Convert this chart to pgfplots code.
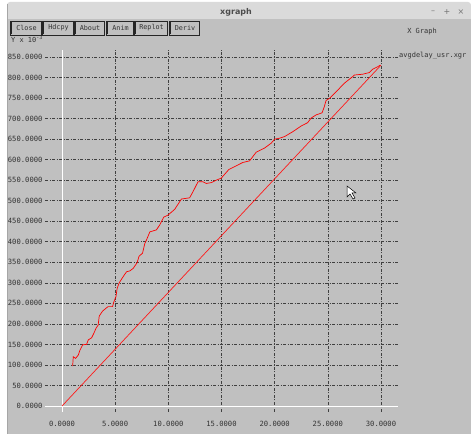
\documentclass[border=0pt]{standalone}
\usepackage{pgfplots}
\pgfplotsset{compat=1.18}
\usepackage{fontspec}
\setmainfont{DejaVu Sans}
\setmonofont{DejaVu Sans Mono}
\definecolor{bg}{HTML}{C0C0C0}
\definecolor{titlebg}{HTML}{DADADA}
\definecolor{gridc}{HTML}{404040}
\pgfplotstableread{
x y
1.00 97
1.06 120
1.28 116
1.53 124
1.69 136
1.94 149
2.31 150
2.47 161
2.78 166
3.03 179
3.19 189
3.40 197
3.50 219
3.81 231
4.13 238
4.34 242
4.75 242
4.88 254
5.07 266
5.19 287
5.38 300
5.75 315
6.07 327
6.38 329
6.69 335
7.06 349
7.25 365
7.57 372
7.79 396
7.94 404
8.26 424
8.88 429
9.19 441
9.57 460
9.97 465
10.60 479
11.23 504
12.00 507
12.32 522
12.79 546
13.26 546
13.57 542
14.04 544
14.51 550
14.98 555
15.69 576
16.23 583
17.00 593
17.64 597
18.26 618
19.04 628
19.67 640
20.00 650
20.45 652
20.92 656
21.70 668
22.50 682
23.10 690
23.42 701
23.90 709
24.46 714
24.67 729
24.83 744
25.14 749
25.77 765
26.55 786
27.33 802
27.49 806
28.27 808
28.90 812
29.20 820
29.67 826
29.93 830
}\delaycurve
\begin{document}
\begin{tikzpicture}[x=1bp,y=1bp]
\path[use as bounding box] (0,0) rectangle (471,434);
% window background
\fill[white] (0,0) rectangle (471,434);
\fill[bg] (7,0) rectangle (471,415);
\fill[titlebg, rounded corners=3bp] (7,432) rectangle (471,415);
\fill[titlebg] (7,420) rectangle (471,415);
\draw[gray!70, line width=0.8bp] (7,0) -- (7,430);
\node[font=\fontsize{8}{9}\selectfont\bfseries, text=black!70] at (236,422) {xgraph};
\node[font=\fontsize{8}{9}\selectfont, text=black!55] at (433,422) {\textendash};
\node[font=\fontsize{8}{9}\selectfont, text=black!55] at (447,422) {+};
\node[font=\fontsize{8}{9}\selectfont, text=black!55] at (461,422) {\texttimes};
% Y x 10 label (partly hidden by buttons)
\node[font=\fontsize{7}{8}\ttfamily, text=black!80, anchor=west, inner sep=0pt] at (11,395) {Y x 10\textsuperscript{-3}};
\begin{axis}[
  at={(45bp,22bp)}, anchor=south west,
  scale only axis, width=353bp, height=362bp,
  xmin=-1.6, xmax=31.6, ymin=-14.6, ymax=867,
  axis line style={draw=none},
  tick style={draw=none},
  xtick={5,10,...,30}, ytick={50,100,...,850},
  extra x ticks={0}, extra y ticks={0},
  extra tick style={major grid style={white, solid, line width=1bp}},
  grid=major,
  major grid style={gridc, line width=0.6bp, dash pattern=on 3bp off 1.5bp on 1bp off 1.5bp},
  /pgf/number format/assume math mode=true,
  /pgf/number format/.cd, fixed, fixed zerofill, precision=4, use period, 1000 sep={},
  /pgfplots/.cd,
  tick label style={font=\fontsize{7.2}{8}\ttfamily, text=black!80},
  xticklabel style={yshift=-6bp},
  yticklabel style={xshift=1bp},
  clip=false,
]
\addplot[red!90!white, line width=0.7bp] coordinates {(0,0) (30,830)};
\addplot[red, line width=0.7bp] table[x=x, y=y] {\delaycurve};
\end{axis}
% buttons drawn over the Y label
\foreach \a/\b/\t in {10/41/Close,42/73/Hdcpy,74/104/About,106/133/Anim,134/167/Replot,169/199/Deriv}{
  \fill[bg] (\a,399) rectangle (\b,413);
  \draw[black!85, line width=0.5bp] (\a,399) rectangle (\b,413);
  \draw[black!85, line width=0.35bp] (\a+1.5,399.5) -- (\a+1.5,412.5);
  \node[font=\fontsize{6.8}{8}\ttfamily, text=black!80, inner sep=0pt] at ({(\a+\b)/2+1},406) {\t};
}
\node[font=\fontsize{7}{8}\ttfamily, text=black!80] at (422,402) {X Graph};
\node[font=\fontsize{7}{8}\ttfamily, text=black!80, anchor=west, inner sep=0pt] at (399,378) {avgdelay\_usr.xgr};
% mouse cursor
\draw[black, fill=white, line width=0.5bp] (347,248) -- (347,237) -- (350,240) -- (353,235) -- (355,236) -- (352,241) -- (356,241) -- cycle;
\end{tikzpicture}
\end{document}
